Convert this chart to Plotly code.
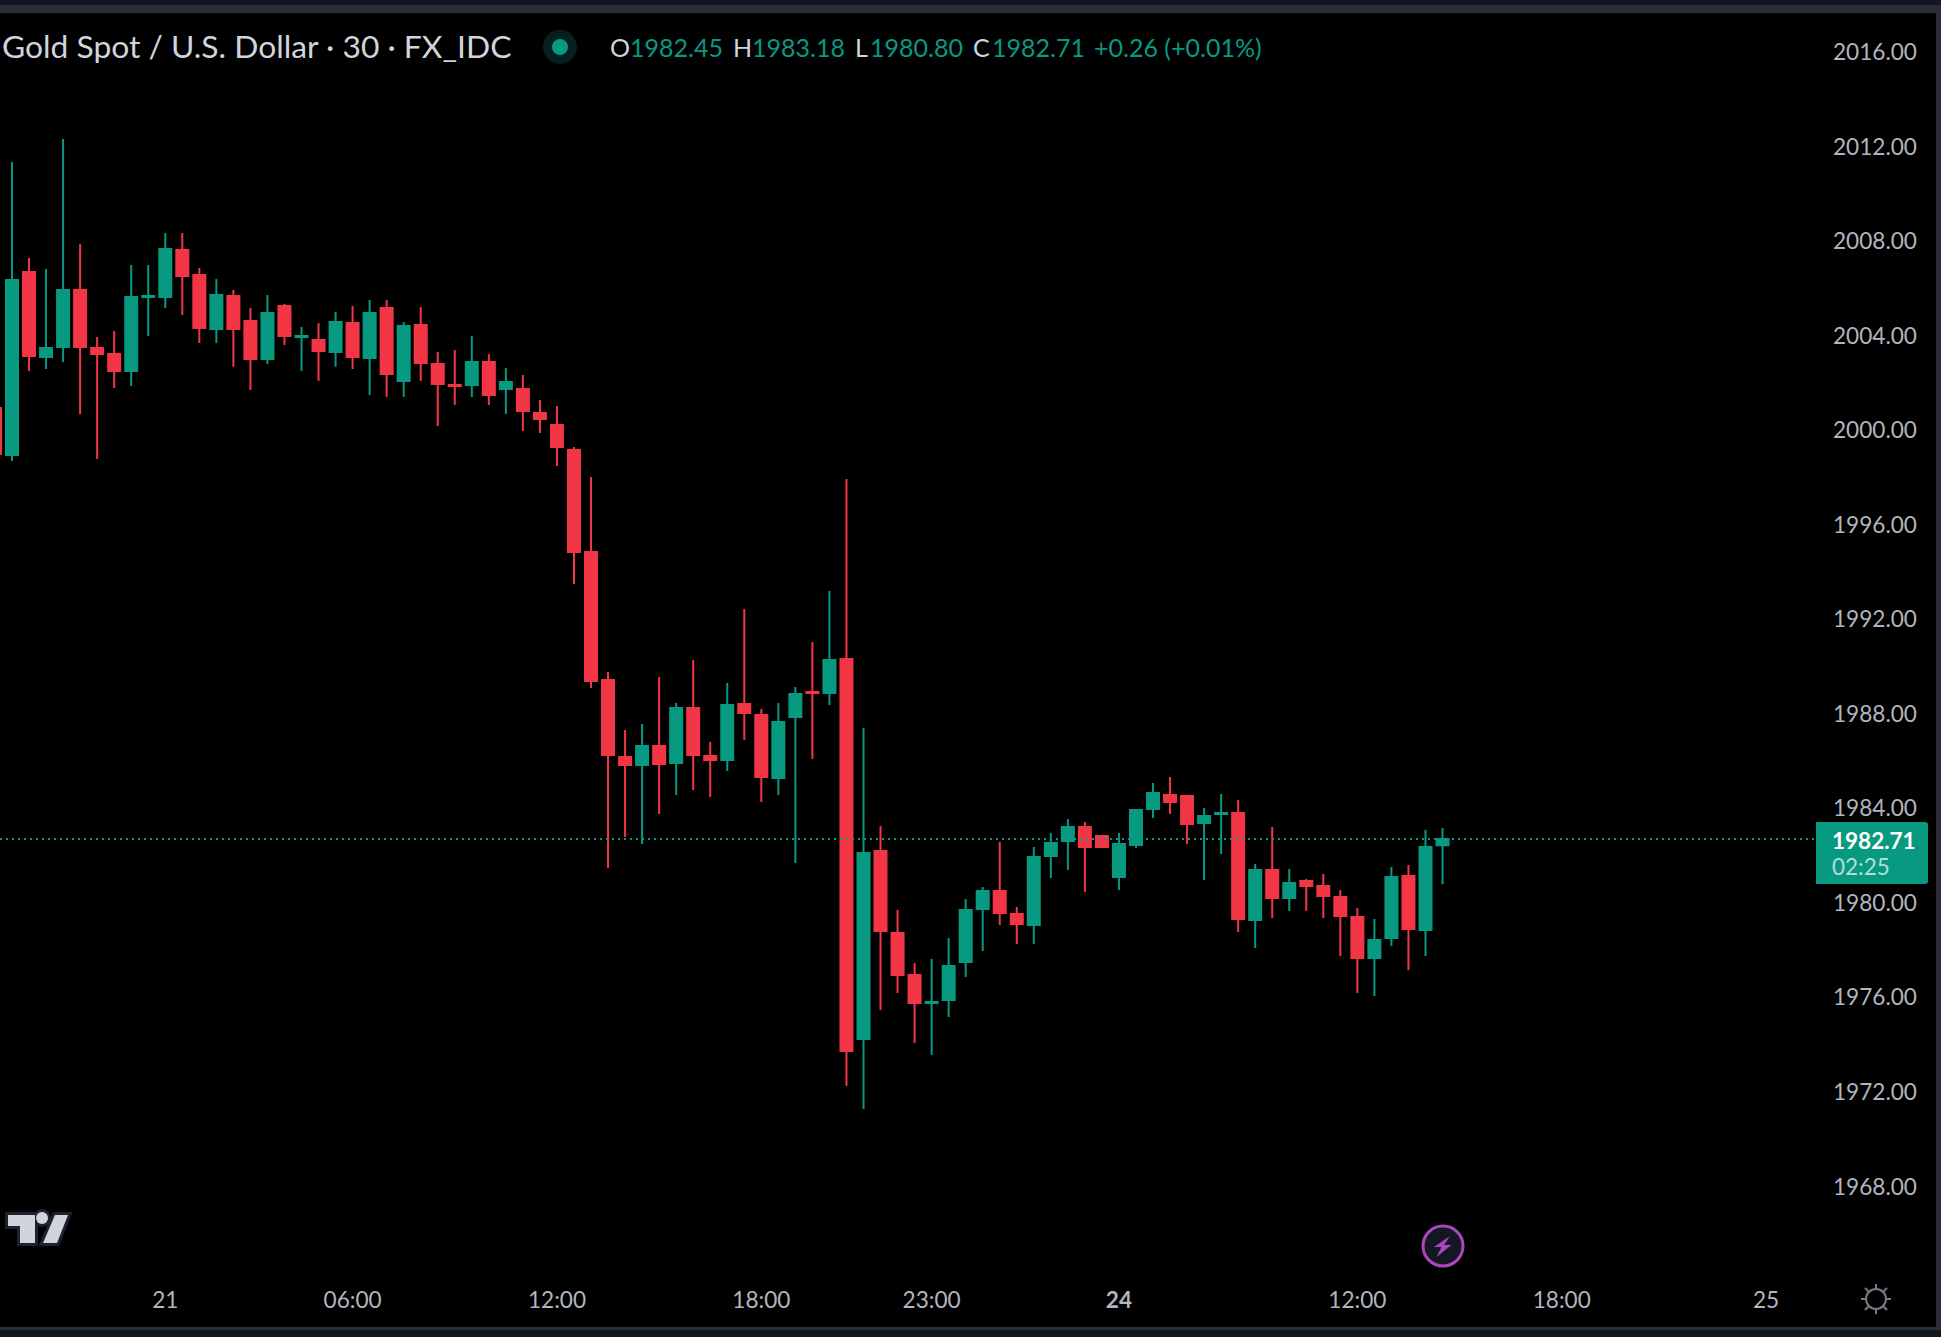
import plotly.graph_objects as go

# --- data (30 minute bars, XAU/USD) ---
bars = list(range(-1, 85))
opens = [2000.95,1998.96,2006.71,2003.11,2003.53,2005.94,2003.49,2003.24,2002.52,2005.65,2005.65,2007.64,2006.58,2004.29,2005.69,
 2004.63,2003.02,2005.27,2003.95,2003.83,2003.32,2004.55,2003.07,2005.18,2002.09,2004.46,2002.81,2001.92,2001.92,2002.90,2001.75,
 2001.75,2000.74,2000.23,1999.17,1994.86,1989.44,1986.18,1985.84,1986.65,1985.93,1988.25,1986.22,1986.05,1988.42,1987.96,1985.29,
 1987.87,1988.93,1988.89,1990.33,1974.25,1982.20,1978.73,1976.95,1975.77,1975.90,1977.50,1979.75,1980.51,1979.54,1979.07,1981.99,
 1982.63,1983.22,1982.84,1981.10,1982.46,1983.98,1984.57,1984.53,1983.39,1983.77,1983.81,1979.28,1981.40,1980.21,1980.93,1980.72,
 1980.26,1979.41,1977.67,1978.52,1981.14,1978.86,1982.45]
highs = [2001.10,2011.36,2007.30,2006.83,2012.33,2007.89,2003.95,2004.21,2007.00,2007.00,2008.36,2008.36,2006.87,2006.41,2005.94,
 2005.18,2005.73,2005.35,2004.38,2004.55,2005.01,2005.27,2005.52,2005.52,2004.59,2005.22,2003.32,2003.40,2004.00,2003.24,2002.64,
 2002.35,2001.29,2001.03,1999.30,1998.03,1989.78,1987.32,1987.58,1989.57,1988.47,1990.29,1986.82,1989.31,1992.44,1988.21,1988.47,
 1989.14,1991.05,1993.21,1997.95,1987.41,1983.26,1979.71,1977.46,1977.63,1978.52,1980.17,1980.68,1982.58,1979.83,1982.37,1982.96,
 1983.56,1983.43,1982.88,1982.96,1983.98,1985.08,1985.33,1984.57,1984.02,1984.61,1984.36,1981.65,1983.22,1981.44,1981.02,1981.23,
 1980.55,1979.79,1979.32,1981.53,1981.61,1983.09,1983.18]
lows = [1998.80,1998.71,2002.52,2002.60,2002.90,2000.70,1998.79,2001.80,2001.88,2004.00,2005.18,2004.89,2003.70,2003.70,2002.69,
 2001.71,2002.81,2003.62,2002.52,2002.09,2002.69,2002.60,2001.50,2001.42,2001.42,2002.09,2000.19,2001.08,2001.42,2001.08,2000.70,
 1999.98,1999.89,1998.50,1993.50,1989.10,1981.48,1982.79,1982.50,1983.77,1984.57,1984.78,1984.49,1985.59,1986.90,1984.28,1984.57,
 1981.69,1986.10,1988.38,1972.26,1971.28,1975.47,1976.19,1974.08,1973.57,1975.18,1976.87,1977.97,1979.07,1978.27,1978.27,1981.06,
 1981.40,1980.47,1982.33,1980.55,1982.33,1983.60,1983.77,1982.50,1980.97,1982.08,1978.77,1978.10,1979.37,1979.66,1979.66,1979.37,
 1977.76,1976.19,1976.07,1978.18,1977.17,1977.76,1980.80]
closes = [1999.00,2006.37,2003.15,2003.49,2005.94,2003.53,2003.24,2002.52,2005.65,2005.69,2007.68,2006.54,2004.34,2005.73,2004.29,
 2003.02,2004.97,2004.00,2004.00,2003.36,2004.59,2003.11,2004.97,2002.39,2004.42,2002.85,2001.97,2001.88,2002.90,2001.50,2002.05,
 2000.82,2000.48,1999.30,1994.86,1989.40,1986.26,1985.84,1986.65,1985.88,1988.25,1986.26,1986.05,1988.38,1988.04,1985.33,1987.66,
 1988.85,1988.89,1990.29,1973.74,1982.12,1978.82,1976.95,1975.77,1975.81,1977.34,1979.71,1980.51,1979.58,1979.11,1981.95,1982.54,
 1983.22,1982.37,1982.37,1982.50,1983.94,1984.66,1984.28,1983.34,1983.68,1983.81,1979.32,1981.40,1980.21,1980.85,1980.72,1980.30,
 1979.45,1977.67,1978.44,1981.10,1978.90,1982.37,1982.71]
price_ticks = [1968, 1972, 1976, 1980, 1984, 1988, 1992, 1996, 2000, 2004, 2008, 2012, 2016]
time_tick_bars = [9, 20, 32, 44, 54, 65, 79, 91, 103]
time_tick_text = ["21", "06:00", "12:00", "18:00", "23:00", "<b>24</b>", "12:00", "18:00", "25"]
last_price = 1982.71
title_text = "Gold Spot / U.S. Dollar · 30 · FX_IDC"
legend_items = [("O", 610, "#d1d4dc"), ("1982.45", 630, "#089981"), ("H", 733, "#d1d4dc"), ("1983.18", 752, "#089981"),
                ("L", 855, "#d1d4dc"), ("1980.80", 870, "#089981"), ("C", 973, "#d1d4dc"), ("1982.71", 992, "#089981"),
                ("+0.26 (+0.01%)", 1094, "#089981")]

W, H = 1941, 1337
L, R, T, B = 0, 1816, 13, 1275
FONT = "Lato"
UP, DOWN = "#089981", "#F23645"
def px(x): return (x - L) / (R - L)
def py(y): return (B - y) / (B - T)
def path(pts, close=True):
    s = "M" + " L".join(f"{px(a):.6f},{py(b):.6f}" for a, b in pts)
    return s + (" Z" if close else "")
def rect(x0, y0, x1, y1, color):
    return dict(type="rect", xref="paper", yref="paper", x0=px(x0), x1=px(x1), y0=py(y0), y1=py(y1),
                fillcolor=color, line_width=0)
def poly(pts, fill, line=None, lw=0):
    return dict(type="path", xref="paper", yref="paper", path=path(pts), fillcolor=fill,
                line=dict(color=line or fill, width=lw))
def circle(cx, cy, r, fill, line=None, lw=0):
    return dict(type="circle", xref="paper", yref="paper", x0=px(cx - r), x1=px(cx + r), y0=py(cy + r), y1=py(cy - r),
                fillcolor=fill, line=dict(color=line or fill, width=lw))
def text(s, x, y, size, color, anchor="left"):
    return dict(text=s, x=px(x), y=py(y), xref="paper", yref="paper", xanchor=anchor, yanchor="middle", showarrow=False,
                font=dict(family=FONT, size=size, color=color), borderpad=0, borderwidth=0)

fig = go.Figure(go.Candlestick(
    x=bars, open=opens, high=highs, low=lows, close=closes,
    increasing=dict(line=dict(color=UP, width=2), fillcolor=UP),
    decreasing=dict(line=dict(color=DOWN, width=2), fillcolor=DOWN),
    whiskerwidth=0, hoverinfo="skip", showlegend=False))

# price -> pixel: y = 839 + (1982.71 - p) * 23.63 ; bar -> pixel: x = 12 + 17.03 * i
xr = [(L - 12) / 17.03, (R - 12) / 17.03]
yr = [last_price - (B - 839) / 23.63, last_price + (839 - T) / 23.63]

shapes = [
    rect(0, 0, W, 5, "#131722"), rect(0, 5, W, 13, "#2a2e39"),
    rect(1936, 5, W, 1330, "#2a2e39"),
    rect(0, 1327, W, 1330, "#2a2e39"), rect(0, 1330, W, H, "#131722"),
    dict(type="line", xref="paper", yref="y", x0=0, x1=1, y0=last_price, y1=last_price,
         line=dict(color=UP, width=2, dash="2px,4px")),
    # status dot
    circle(560, 47, 17, "#06211d"), circle(560, 47, 8, UP),
    # price label
    dict(type="path", xref="paper", yref="paper", fillcolor=UP, line_width=0,
         path=f"M{px(1816)},{py(822)} L{px(1925)},{py(822)} Q{px(1928)},{py(822)} {px(1928)},{py(825)} "
              f"L{px(1928)},{py(881)} Q{px(1928)},{py(884)} {px(1925)},{py(884)} L{px(1816)},{py(884)} Z"),
    # logo
    poly([(8, 1215), (35, 1215), (35, 1243), (20, 1243), (20, 1226), (8, 1226)], "#1e222d", "#1e222d", 6),
    poly([(55, 1215), (68, 1215), (57, 1243), (43, 1243)], "#1e222d", "#1e222d", 6),
    circle(42, 1218, 6, "#1e222d", "#1e222d", 6),
    poly([(8, 1215), (35, 1215), (35, 1243), (20, 1243), (20, 1226), (8, 1226)], "#d1d4dc"),
    poly([(55, 1215), (68, 1215), (57, 1243), (43, 1243)], "#d1d4dc"),
    circle(42, 1218, 6, "#d1d4dc"),
    # bolt badge
    circle(1443, 1246, 20, "#131722", "#ab47bc", 3),
    poly([(1450, 1236), (1434, 1247), (1441.5, 1247), (1436.5, 1257), (1451.5, 1245), (1444, 1245)], "#ab47bc"),
    # sun icon
    circle(1876, 1299, 10, "rgba(0,0,0,0)", "#787b86", 2),
]
for dx, dy, dx2, dy2 in [(0, -10, 0, -15), (0, 10, 0, 15), (-10, 0, -15, 0), (10, 0, 15, 0),
                         (-7, -7, -11, -11), (7, -7, 11, -11), (-7, 7, -11, 11), (7, 7, 11, 11)]:
    shapes.append(dict(type="line", xref="paper", yref="paper", x0=px(1876 + dx), x1=px(1876 + dx2),
                       y0=py(1299 + dy), y1=py(1299 + dy2), line=dict(color="#787b86", width=2)))

annotations = [text(title_text, 2, 46, 31.8, "#d1d4dc")]
annotations += [text(s, x, 47, 25, c) for s, x, c in legend_items]
annotations += [text("<b>1982.71</b>", 1832, 840, 22.5, "#ffffff"), text("02:25", 1832, 866, 22.5, "rgba(255,255,255,0.7)")]

fig.update_layout(
    width=W, height=H, margin=dict(l=L, r=W - R, t=T, b=H - B, pad=0),
    paper_bgcolor="#000000", plot_bgcolor="#000000", showlegend=False, hovermode=False,
    boxgap=0.295, boxgroupgap=0, dragmode=False,
    font=dict(family=FONT, size=22.6, color="#b2b5be"),
    shapes=shapes, annotations=annotations,
    xaxis=dict(range=xr, tickmode="array", tickvals=time_tick_bars, ticktext=time_tick_text, showgrid=False,
               zeroline=False, showline=False, ticks="", ticklabelstandoff=9, rangeslider=dict(visible=False),
               tickfont=dict(family=FONT, size=22.6, color="#b2b5be"), tickangle=0, fixedrange=True),
    yaxis=dict(range=yr, side="right", tickmode="array", tickvals=price_ticks, tickformat=".2f", showgrid=False,
               zeroline=False, showline=False, ticks="", ticklabelstandoff=16,
               tickfont=dict(family=FONT, size=22.6, color="#b2b5be"), fixedrange=True),
)
fig.write_html("out.html", config=dict(displayModeBar=False),
               post_script="document.body.style.margin='0';document.body.style.background='#000';document.body.style.overflow='hidden';")
